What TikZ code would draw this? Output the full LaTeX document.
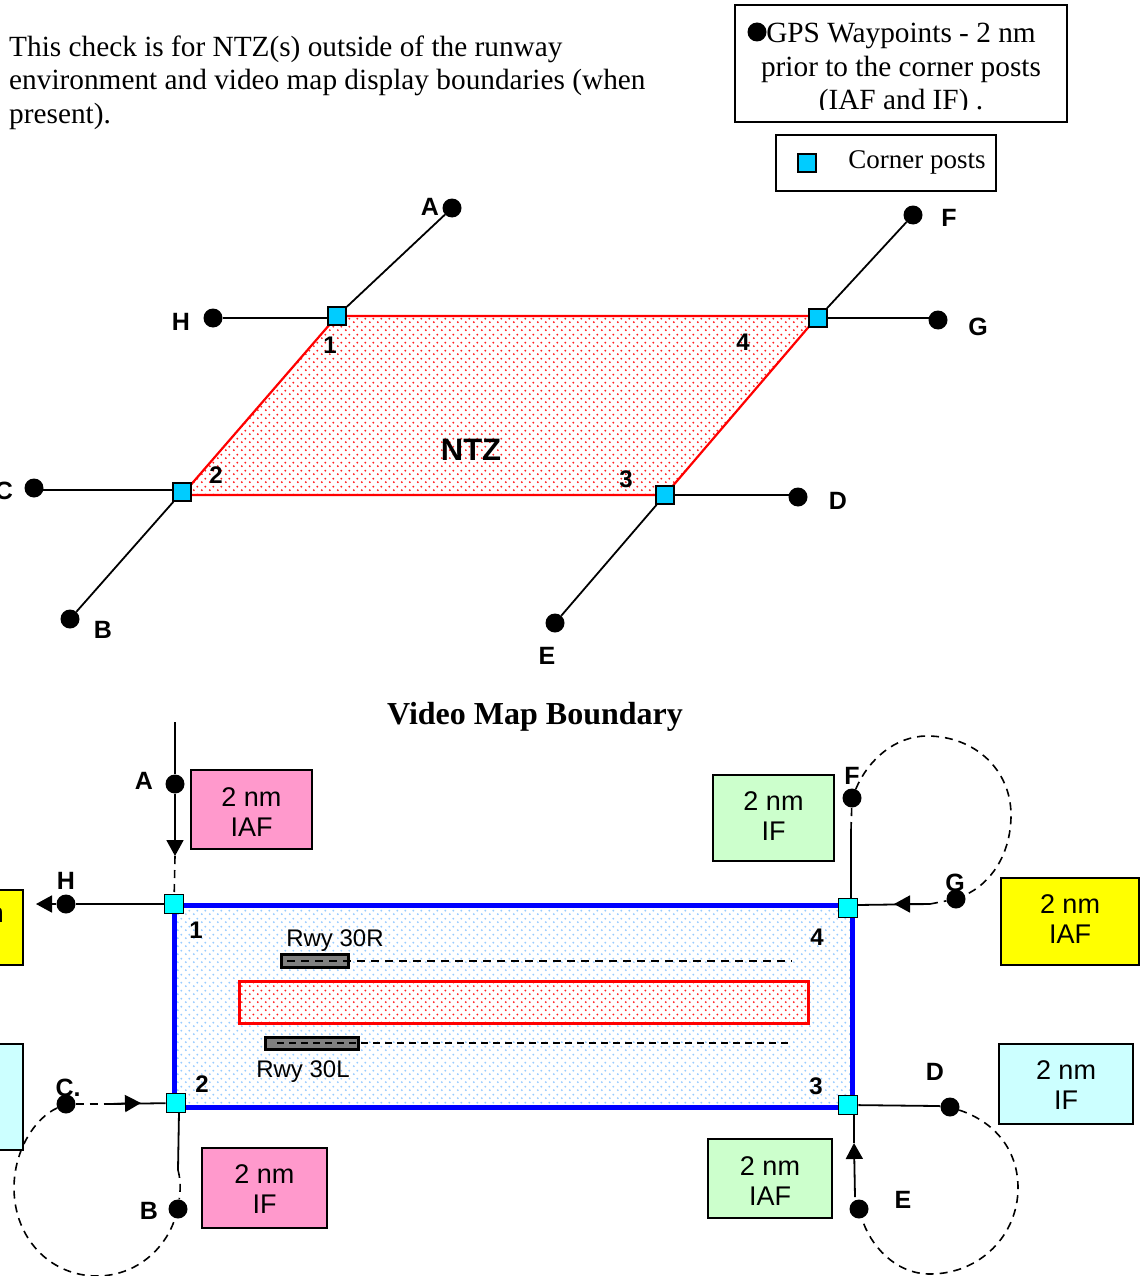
\documentclass[tikz,border=0pt]{standalone}
\usepackage{fontspec}
\setmainfont{Liberation Serif}
\setsansfont{Liberation Sans}
\usetikzlibrary{arrows.meta,patterns}
\definecolor{postA}{HTML}{00CCFF}
\definecolor{postB}{HTML}{00FFFF}
\definecolor{pinkbox}{HTML}{FF99CC}
\definecolor{greenbox}{HTML}{CCFFCC}
\definecolor{cyanbox}{HTML}{CCFFFF}
\definecolor{yellowbox}{HTML}{FFFF00}
\definecolor{reddot}{HTML}{FF2020}
\definecolor{bluedot}{HTML}{99CCFF}
\pgfdeclarepatternformonly{mapdots}{\pgfqpoint{0pt}{0pt}}{\pgfqpoint{8pt}{8pt}}{\pgfqpoint{8pt}{8pt}}{%
  \pgfpathcircle{\pgfqpoint{2pt}{2pt}}{1.15pt}%
  \pgfpathcircle{\pgfqpoint{6pt}{6pt}}{1.15pt}%
  \pgfusepath{fill}}
\tikzset{
  wp/.style={circle,fill=black,inner sep=0pt,minimum size=19pt},
  posta/.style={rectangle,draw=black,line width=1.6pt,fill=postA,inner sep=0pt,minimum size=18pt},
  postb/.style={rectangle,draw=black,line width=1.6pt,fill=postB,inner sep=0pt,minimum size=19pt},
  lab/.style={font=\sffamily\bfseries\fontsize{25}{30}\selectfont,inner sep=0pt},
  num/.style={font=\sffamily\bfseries\fontsize{24}{28}\selectfont,inner sep=0pt},
  conn/.style={line width=1.8pt,black},
  dashline/.style={line width=1.6pt,black,dash pattern=on 8pt off 6pt},
  tipped/.style={line width=1.8pt,black,-{Triangle[length=16pt,width=17pt]}},
  fixbox/.style={rectangle,draw=black,line width=1.8pt,inner sep=0pt},
  boxtext/.style={align=center,inner sep=0pt,font=\sffamily\fontsize{27}{30}\selectfont},
  txt/.style 2 args={label={[boxtext,yshift=#1]center:{#2}}},
  serif/.style={font=\rmfamily\fontsize{29.3}{33.5}\selectfont,inner sep=0pt},
  rwy/.style={font=\sffamily\fontsize{24}{28}\selectfont,inner sep=0pt},
  strip/.style={rectangle,draw=black,line width=3pt,fill=gray,inner sep=0pt}
}
\begin{document}
\begin{tikzpicture}[x=1pt,y=-1pt]
\useasboundingbox (0,0) rectangle (1141,1276);
% intro text
\node[serif,anchor=north west,align=left] (intro) at (9,35.5) {This check is for NTZ(s) outside of the runway\\environment and video map display boundaries (when\\present).};
% legends
\draw[line width=1.8pt] (735,5) rectangle (1067,122);
\begin{scope}
\clip (736,6) rectangle (1066,110);
\node[serif,align=center,anchor=north] (gpstext) at (901,23) {GPS Waypoints - 2 nm\\prior to the corner posts\\(IAF and IF) .};
\end{scope}
\node[wp] (gpsdot) at (757,32) {};
\node[rectangle,draw=black,line width=1.8pt,minimum width=220pt,minimum height=56pt,inner sep=0pt] (cornerbox) at (886,163) {};
\node[posta] (cornersq) at (807,163) {};
\node[font=\rmfamily\fontsize{27}{30}\selectfont,inner sep=0pt] (cornertext) at (917,162.5) {Corner posts};
% top NTZ
\fill[white] (337,316) -- (818,316) -- (665,495) -- (182,495) -- cycle;
\fill[pattern=mapdots,pattern color=reddot] (337,316) -- (818,316) -- (665,495) -- (182,495) -- cycle;
\draw[red,line width=2.2pt] (337,316) -- (818,316) -- (665,495) -- (182,495) -- cycle;
\node[wp] (A) at (452,208) {};
\node[wp] (H) at (213,318) {};
\node[wp] (F) at (913,215) {};
\node[wp] (G) at (938,320) {};
\node[wp] (D) at (798,497) {};
\node[wp] (E) at (555,623) {};
\node[wp] (C) at (34,488) {};
\node[wp] (B) at (70,619) {};
\node[posta] (p1) at (337,316) {};
\node[posta] (p4) at (818,318) {};
\node[posta] (p3) at (665,495) {};
\node[posta] (p2) at (182,492) {};
\coordinate (cline) at (38,490);
\draw[conn] (A) -- (p1);
\draw[conn] (H) -- (H -| p1.west);
\draw[conn] (F) -- (p4);
\draw[conn] (p4) -- (p4 -| G);
\draw[conn] (p3) -- (p3 -| D);
\draw[conn] (E) -- (p3);
\draw[conn] (cline) -- (cline -| p2.west);
\draw[conn] (B) -- (p2);
\node[lab] (lA) at (430,207) {A};
\node[lab] (lH) at (181,322) {H};
\node[lab] (lF) at (949,218) {F};
\node[lab] (lG) at (978,327) {G};
\node[lab] (lD) at (838,501) {D};
\node[lab] (lE) at (547,656) {E};
\node[lab] (lC) at (4,491) {C};
\node[lab] (lB) at (103,630) {B};
\node[num] (n1) at (330,345) {1};
\node[num] (n2) at (216,475) {2};
\node[num] (n3) at (626,479) {3};
\node[num] (n4) at (743,342) {4};
\node[font=\sffamily\bfseries\fontsize{31}{36}\selectfont,inner sep=0pt] (ntz) at (471,450) {NTZ};
% title
\node[font=\rmfamily\bfseries\fontsize{32}{36}\selectfont,inner sep=0pt] (title) at (535,717) {Video Map Boundary};
% video map
\fill[white] (174,905) rectangle (852,1107);
\fill[pattern=mapdots,pattern color=bluedot] (174,905) rectangle (852,1107);
\draw[blue,line width=5pt] (174,905) rectangle (852,1107);
% runway and NTZ
\fill[white] (239,981) rectangle (808,1023);
\fill[pattern=mapdots,pattern color=reddot] (239,981) rectangle (808,1023);
\draw[red,line width=3pt] (239,981) rectangle (808,1023);
\node[strip,minimum width=67pt,minimum height=13pt] (r30R) at (314.5,961) {};
\node[strip,minimum width=93pt,minimum height=12pt] (r30L) at (312,1043) {};
\coordinate (r30Rs) at (287,961);
\coordinate (r30Re) at (792,961);
\coordinate (r30Ls) at (277,1043);
\coordinate (r30Le) at (790,1043);
\draw[dashline] (r30Rs) -- (r30Re);
\draw[dashline,dash pattern=on 7pt off 5pt] (r30Ls) -- (r30Le);
\node[rwy] (t30R) at (335,941) {Rwy 30R};
\node[rwy] (t30L) at (303,1072) {Rwy 30L};
% waypoints
\node[wp] (a2) at (175,784) {};
\node[wp] (h2) at (66,904) {};
\node[wp] (c2) at (66,1104) {};
\node[wp] (b2) at (178,1209) {};
\node[wp] (f2) at (852,798) {};
\node[wp] (g2) at (956,899) {};
\node[wp] (d2) at (950,1107) {};
\node[wp] (e2) at (859,1209) {};
\node[postb] (q1) at (174,904) {};
\node[postb] (q2) at (176,1103) {};
\node[postb] (q3) at (848,1105) {};
\node[postb] (q4) at (848,908) {};
% free-end coordinates
\coordinate (atop) at (175,722);
\coordinate (atip) at (175,856);
\coordinate (htip) at (36,904);
\coordinate (ctip) at (141,1103);
\coordinate (cmid) at (110,1104);
\coordinate (bmid) at (178,1170);
\coordinate (fmid) at (851,830);
\coordinate (gtip) at (894,904);
\coordinate (gmid) at (930,904);
\coordinate (dmid) at (938,1106);
\coordinate (etip) at (854,1143);
\coordinate (emid) at (855,1197);
\coordinate (q4r) at (857,905);
\coordinate (q3b) at (854,1114);
\coordinate (q2b) at (179,1112);
\coordinate (q4t) at (851,899);
% connectors
\draw[conn] (atop) -- (a2);
\draw[tipped] (a2) -- (atip);
\draw[dashline] (atip) -- (q1);
\draw[conn] (q1) -- (h2);
\draw[tipped] (h2) -- (htip);
\draw[dashline] (c2) -- (cmid);
\draw[conn] (cmid) -- (q2);
\draw[tipped] (cmid) -- (ctip);
\draw[conn] (q2b) -- (bmid);
\draw[dashline] (bmid) .. controls (180,1178) and (181,1186) .. (b2);
\draw[conn] (q4t) -- (fmid);
\draw[dashline] (fmid) -- (f2);
\draw[conn] (q4r) -- (gmid);
\draw[tipped] (gmid) -- (gtip);
\draw[dashline] (gmid) -- (g2);
\draw[conn] (q3) -- (dmid);
\draw[conn] (dmid) -- (d2);
\draw[conn] (q3b) -- (etip);
\draw[tipped] (emid) -- (etip);
% holding loops
\draw[dashline] (c2) .. controls (35,1118) and (14,1150) .. (14,1188) .. controls (14,1238) and (50,1276) .. (97,1276) .. controls (135,1276) and (165,1250) .. (b2);
\draw[dashline] (f2) .. controls (868,760) and (895,736) .. (927,736) .. controls (975,736) and (1011,770) .. (1011,815) .. controls (1011,855) and (990,884) .. (g2);
\draw[dashline] (d2) .. controls (995,1122) and (1018,1150) .. (1018,1188) .. controls (1018,1235) and (980,1274) .. (930,1274) .. controls (895,1274) and (870,1245) .. (e2);
% info boxes
\node[fixbox,fill=pinkbox,minimum width=121pt,minimum height=79pt,txt={-3pt}{2 nm\\IAF}] (iafA) at (251.5,809.5) {};
\node[fixbox,fill=greenbox,minimum width=121pt,minimum height=86pt,txt={1.5pt}{2 nm\\IF}] (ifF) at (773.5,818) {};
\node[fixbox,fill=yellowbox,minimum width=138pt,minimum height=87pt,txt={2pt}{2 nm\\IAF}] (iafG) at (1070,921.5) {};
\node[fixbox,fill=pinkbox,minimum width=125pt,minimum height=80pt,txt={-1.5pt}{2 nm\\IF}] (ifB) at (264.5,1188) {};
\node[fixbox,fill=greenbox,minimum width=124pt,minimum height=79pt,txt={-2.5pt}{2 nm\\IAF}] (iafE) at (770,1178.5) {};
\node[fixbox,fill=cyanbox,minimum width=134pt,minimum height=80pt,txt={-1.5pt}{2 nm\\IF}] (ifD) at (1066,1084) {};
\node[fixbox,fill=yellowbox,minimum width=98pt,minimum height=75pt,txt={-1pt}{2 nm\\IAF}] (iafH) at (-26,927.5) {};
\node[fixbox,fill=cyanbox,minimum width=100pt,minimum height=106pt] (ifC) at (-27,1097) {};
% labels
\node[lab] (mA) at (144,781) {A};
\node[lab] (mH) at (66,881) {H};
\node[lab] (mC) at (68,1088) {C.};
\node[lab] (mB) at (149,1211) {B};
\node[lab] (mF) at (852,776) {F};
\node[lab] (mG) at (955,883) {G};
\node[lab] (mD) at (935,1072) {D};
\node[lab] (mE) at (903,1200) {E};
\node[num] (m1) at (196,930) {1};
\node[num] (m2) at (202,1084) {2};
\node[num] (m3) at (816,1086) {3};
\node[num] (m4) at (817,937) {4};
\end{tikzpicture}
\end{document}
